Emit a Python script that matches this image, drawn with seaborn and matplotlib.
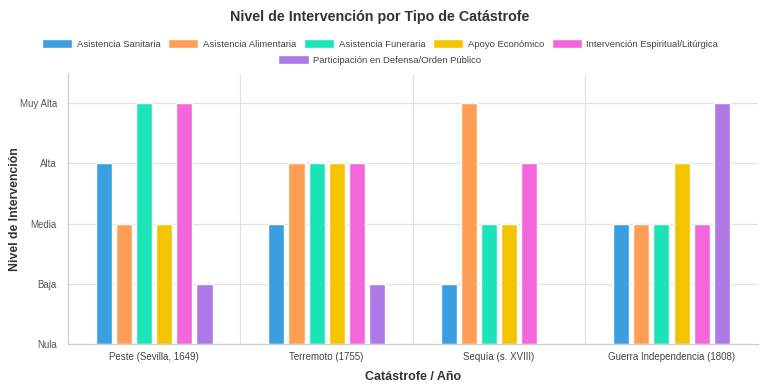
import matplotlib
matplotlib.use("Agg")
import matplotlib.pyplot as plt
import seaborn as sns
import pandas as pd
from matplotlib.patches import Patch

# Data
catastrofes = ["Peste (Sevilla, 1649)", "Terremoto (1755)", "Sequía (s. XVIII)", "Guerra Independencia (1808)"]
series = ["Asistencia Sanitaria", "Asistencia Alimentaria", "Asistencia Funeraria",
          "Apoyo Económico", "Intervención Espiritual/Litúrgica", "Participación en Defensa/Orden Público"]
sanitaria = [3, 2, 1, 2]
alimentaria = [2, 3, 4, 2]
funeraria = [4, 3, 2, 2]
economico = [2, 3, 2, 3]
espiritual = [4, 3, 3, 2]
defensa = [1, 1, 0, 4]
niveles = ["Nula", "Baja", "Media", "Alta", "Muy Alta"]
colors = ["#3a9ee0", "#ff9f55", "#1de3b8", "#f5c400", "#f366dc", "#ad79e6"]

values = [sanitaria, alimentaria, funeraria, economico, espiritual, defensa]
rows = []
for s, vals in zip(series, values):
    for c, v in zip(catastrofes, vals):
        rows.append({"cat": c, "serie": s, "nivel": v})
df = pd.DataFrame(rows)

sns.set_style("white")
plt.rcParams["font.family"] = ["Liberation Sans", "DejaVu Sans"]

fig = plt.figure(figsize=(7.6, 3.88), dpi=100)
ax = fig.add_axes([0.0895, 0.1134, 0.9075, 0.6956])

sns.barplot(data=df, x="cat", y="nivel", hue="serie", order=catastrofes, hue_order=series,
            palette=colors, saturation=1, width=0.7, gap=0.2, dodge=True, legend=False,
            ax=ax, zorder=2)

ax.set_ylim(0, 4.48)
ax.set_xlim(-0.5, 3.5)
ax.set_yticks(range(5))
ax.set_yticklabels(niveles, fontsize=7, color="#555555")
ax.set_xticks(range(4))
ax.set_xticklabels(catastrofes, fontsize=7, color="#444444")
ax.set_xticks([0.5, 1.5, 2.5], minor=True)
ax.tick_params(axis="y", length=5, color="#cccccc", pad=3)
ax.tick_params(axis="x", which="major", length=0, pad=6)
ax.tick_params(axis="x", which="minor", length=0)
ax.grid(axis="y", color="#e2e2e2", linewidth=0.9, zorder=0)
ax.grid(axis="x", which="minor", color="#e2e2e2", linewidth=0.9, zorder=0)
ax.set_axisbelow(True)
for side in ["top", "right"]:
    ax.spines[side].set_visible(False)
for side in ["left", "bottom"]:
    ax.spines[side].set_color("#cccccc")
    ax.spines[side].set_linewidth(0.9)

ax.set_xlabel("Catástrofe / Año", fontsize=9, fontweight="bold", color="#333333", labelpad=6)
ax.set_ylabel("Nivel de Intervención", fontsize=8.8, fontweight="bold", color="#333333")
ax.yaxis.set_label_coords(-0.068, 0.5)

fig.suptitle("Nivel de Intervención por Tipo de Catástrofe", fontsize=10.3, fontweight="bold",
             color="#333333", y=0.975)

handles = [Patch(facecolor=c, label=s) for c, s in zip(colors, series)]
leg1 = fig.legend(handles=handles[:5], loc="center", bbox_to_anchor=(0.5, 0.887), ncol=5,
                  frameon=False, fontsize=6.8, handlelength=3.2, handleheight=1.0,
                  columnspacing=0.8, handletextpad=0.5)
leg2 = fig.legend(handles=handles[5:], loc="center", bbox_to_anchor=(0.5, 0.845), ncol=1,
                  frameon=False, fontsize=6.8, handlelength=3.2, handleheight=1.0,
                  handletextpad=0.5)
for leg in (leg1, leg2):
    for t in leg.get_texts():
        t.set_color("#444444")

fig.savefig("out.png", dpi=100)
